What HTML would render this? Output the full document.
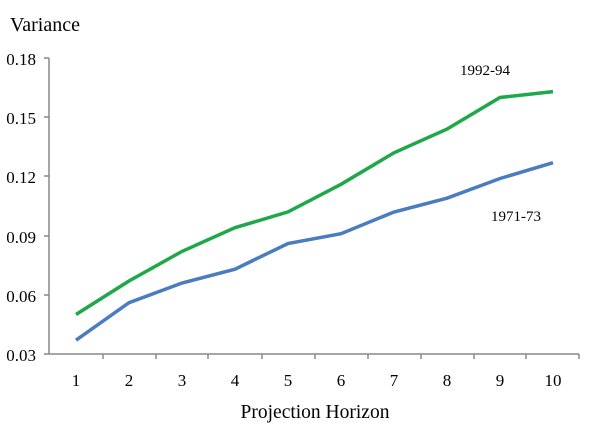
<!DOCTYPE html><html><head><style>body{margin:0;background:#fff}svg{display:block}</style></head><body>
<svg width="600" height="432" xmlns="http://www.w3.org/2000/svg" font-family="Liberation Serif, serif" fill="#000">
<text x="10" y="31" font-size="20">Variance</text>
<g stroke="#888" stroke-width="1.5">
<line x1="49" y1="58" x2="49" y2="354"/>
<line x1="49" y1="354" x2="579" y2="354"/>
<line x1="44" y1="58" x2="49" y2="58"/><line x1="44" y1="117" x2="49" y2="117"/><line x1="44" y1="176" x2="49" y2="176"/><line x1="44" y1="236" x2="49" y2="236"/><line x1="44" y1="295" x2="49" y2="295"/><line x1="44" y1="354" x2="49" y2="354"/>
<line x1="103" y1="354" x2="103" y2="359"/><line x1="156" y1="354" x2="156" y2="359"/><line x1="208" y1="354" x2="208" y2="359"/><line x1="262" y1="354" x2="262" y2="359"/><line x1="315" y1="354" x2="315" y2="359"/><line x1="368" y1="354" x2="368" y2="359"/><line x1="421" y1="354" x2="421" y2="359"/><line x1="474" y1="354" x2="474" y2="359"/><line x1="526" y1="354" x2="526" y2="359"/><line x1="579" y1="354" x2="579" y2="359"/>
</g>
<g font-size="17" text-anchor="end">
<text x="36" y="65">0.18</text><text x="36" y="124">0.15</text><text x="36" y="183">0.12</text><text x="36" y="243">0.09</text><text x="36" y="302">0.06</text><text x="36" y="361">0.03</text>
</g>
<g font-size="17" text-anchor="middle">
<text x="76" y="386">1</text><text x="129" y="386">2</text><text x="182" y="386">3</text><text x="235" y="386">4</text><text x="288" y="386">5</text><text x="341" y="386">6</text><text x="394" y="386">7</text><text x="447" y="386">8</text><text x="500" y="386">9</text><text x="553" y="386">10</text>
<text x="315" y="418" font-size="19.5">Projection Horizon</text>
</g>
<polyline fill="none" stroke="#1fa84a" stroke-width="3.5" points="76,314.5 129,281 182,251.4 235,227.7 288,211.9 341,184.3 394,152.8 447,129.1 500,97.5 553,91.6"/>
<polyline fill="none" stroke="#4a7cc0" stroke-width="3.5" points="76,340.2 129,302.7 182,283 235,269.2 288,243.5 341,233.7 394,212 447,198.2 500,178.5 553,162.7"/>
<text x="460" y="75" font-size="15">1992-94</text>
<text x="491" y="221" font-size="15">1971-73</text>
</svg></body></html>
